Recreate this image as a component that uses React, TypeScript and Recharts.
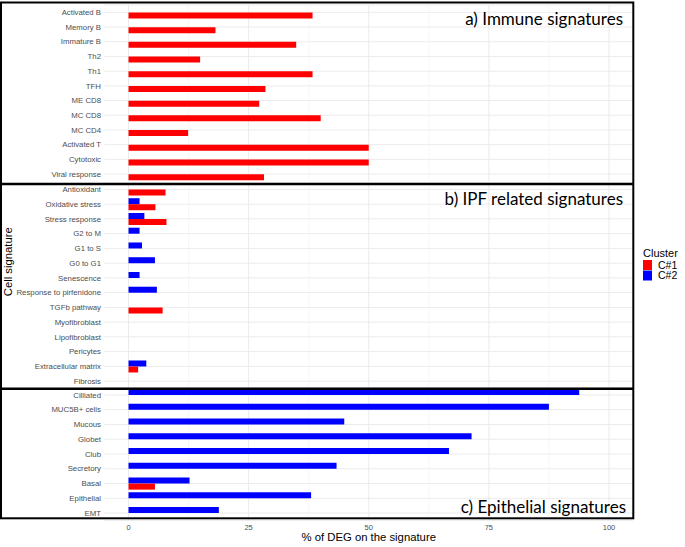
import { BarChart, Bar, XAxis, YAxis, CartesianGrid } from "recharts";

const immuneCats = ["Activated B", "Memory B", "Immature B", "Th2", "Th1", "TFH", "ME CD8", "MC CD8", "MC CD4", "Activated T", "Cytotoxic", "Viral response"];
const immuneC1 = [38.3, 18.1, 34.9, 14.9, 38.3, 28.5, 27.2, 40.0, 12.4, 50.0, 50.0, 28.2];
const immuneC2 = [null, null, null, null, null, null, null, null, null, null, null, null];

const ipfCats = ["Antioxidant", "Oxidative stress", "Stress response", "G2 to M", "G1 to S", "G0 to G1", "Senescence", "Response to pirfenidone", "TGFb pathway", "Myofibroblast", "Lipofibroblast", "Pericytes", "Extracellular matrix", "Fibrosis"];
const ipfC1 = [7.7, 5.6, 7.9, null, null, null, null, null, 7.1, null, null, null, 2.0, null];
const ipfC2 = [null, 2.3, 3.3, 2.3, 2.8, 5.5, 2.3, 5.9, null, null, null, null, 3.7, null];

const epiCats = ["Cilliated", "MUC5B+ cells", "Mucous", "Globet", "Club", "Secretory", "Basal", "Epithelial", "EMT"];
const epiC1 = [null, null, null, null, null, null, 5.5, null, null];
const epiC2 = [93.8, 87.5, 44.9, 71.4, 66.7, 43.3, 12.7, 38.0, 18.8];

const xTicks = [0, 25, 50, 75, 100];
const minorTicks = [12.5, 37.5, 62.5, 87.5];

const RED = "#ff0000";
const BLUE = "#0000ff";
const SANS = "Liberation Sans, Arial, sans-serif";

function toRows(cats: string[], c1: (number | null)[], c2: (number | null)[]) {
  return cats.map((name, i) => ({ name, c1: c1[i], c2: c2[i] }));
}

// plain tick, no word wrapping
function YTick(props: any) {
  const { x, y, payload } = props;
  return (
    <text x={x} y={y} dy="0.35em" textAnchor="end" fontSize={7.8} fill="#4d4d4d" fontFamily={SANS}>
      {payload.value}
    </text>
  );
}

function Panel({
  rows,
  top,
  height,
  marginTop,
  showX,
}: {
  rows: { name: string; c1: number | null; c2: number | null }[];
  top: number;
  height: number;
  marginTop: number;
  showX?: boolean;
}) {
  return (
    <div style={{ position: "absolute", left: 0, top }}>
      <BarChart
        width={633}
        height={height}
        data={rows}
        layout="vertical"
        barCategoryGap="10%"
        barGap={0}
        margin={{ top: marginTop, right: 0, bottom: 0, left: 0 }}
      >
        <CartesianGrid vertical={false} stroke="#ebebeb" strokeWidth={1} />
        <CartesianGrid horizontal={false} verticalValues={minorTicks} stroke="#f4f4f4" strokeWidth={0.7} />
        <CartesianGrid horizontal={false} verticalValues={xTicks} stroke="#ebebeb" strokeWidth={1} />
        <XAxis
          type="number"
          domain={[-5, 105]}
          ticks={xTicks}
          hide={!showX}
          height={showX ? 26.6 : 0}
          tickLine={false}
          axisLine={false}
          tickSize={0}
          tickMargin={4}
          tick={{ fontSize: 7.5, fill: "#4d4d4d", fontFamily: SANS }}
        />
        <YAxis
          type="category"
          dataKey="name"
          width={104.5}
          interval={0}
          tickLine={false}
          axisLine={false}
          tickSize={0}
          tickMargin={3.5}
          tick={<YTick />}
        />
        <Bar dataKey="c2" fill={BLUE} isAnimationActive={false} />
        <Bar dataKey="c1" fill={RED} isAnimationActive={false} />
      </BarChart>
    </div>
  );
}

export default function App() {
  return (
    <div style={{ position: "absolute", left: 0, top: 0, width: 685, height: 547, background: "#fff" }}>
      <Panel rows={toRows(immuneCats, immuneC1, immuneC2)} top={0} height={181.4} marginTop={5} />
      <Panel rows={toRows(ipfCats, ipfC1, ipfC2)} top={181.9} height={206.5} marginTop={0} />
      <Panel rows={toRows(epiCats, epiC1, epiC2)} top={387} height={160} marginTop={0.6} showX />
      <svg
        width={685}
        height={547}
        style={{ position: "absolute", left: 0, top: 0, pointerEvents: "none" }}
      >
        <rect x={1} y={2.5} width={632.3} height={515.8} fill="none" stroke="#000" strokeWidth={2} />
        <line x1={1} x2={633.3} y1={184} y2={184} stroke="#000" strokeWidth={2.4} />
        <line x1={1} x2={633.3} y1={388.7} y2={388.7} stroke="#000" strokeWidth={2.4} />

        <text x={623} y={25} textAnchor="end" fontFamily="Lato" fontSize={17} fill="#000">
          a) Immune signatures
        </text>
        <text x={623} y={205} textAnchor="end" fontFamily="Lato" fontSize={17} fill="#000">
          b) IPF related signatures
        </text>
        <text x={626} y={512.7} textAnchor="end" fontFamily="Lato" fontSize={17} fill="#000">
          c) Epithelial signatures
        </text>

        <text x={368.75} y={541} textAnchor="middle" fontFamily={SANS} fontSize={11.3} fill="#000">
          % of DEG on the signature
        </text>
        <text
          x={12}
          y={261.7}
          textAnchor="middle"
          fontFamily={SANS}
          fontSize={11.3}
          fill="#000"
          transform="rotate(-90 12 261.7)"
        >
          Cell signature
        </text>

        <text x={643} y={257} fontFamily={SANS} fontSize={11} fill="#000">
          Cluster
        </text>
        <rect x={643} y={260} width={9} height={10} fill={RED} />
        <rect x={643} y={270.5} width={9} height={10} fill={BLUE} />
        <text x={658} y={268.5} fontFamily={SANS} fontSize={10.5} fill="#000">
          C#1
        </text>
        <text x={658} y={279} fontFamily={SANS} fontSize={10.5} fill="#000">
          C#2
        </text>
      </svg>
    </div>
  );
}
